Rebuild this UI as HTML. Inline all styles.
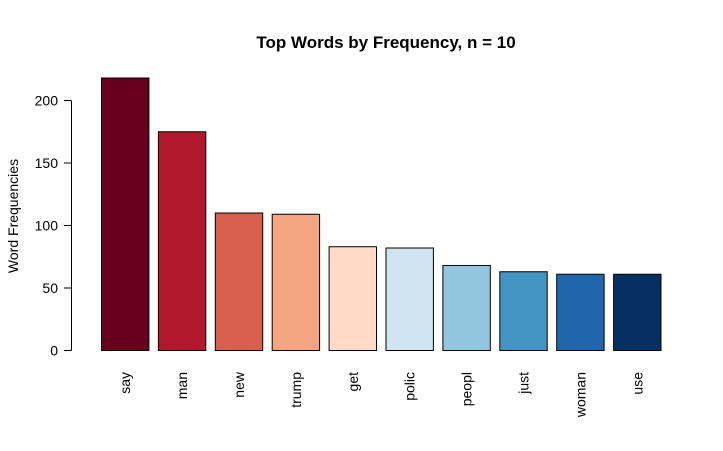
<!DOCTYPE html>
<html><head><meta charset="utf-8"><style>
body{margin:0;background:#fff}
svg{display:block;font-family:"Liberation Sans",Arial,sans-serif}
</style></head><body>
<svg id="chart" width="723" height="451">
<text x="386" y="48" text-anchor="middle" font-weight="bold" font-size="17">Top Words by Frequency, n = 10</text>
<text transform="translate(18,216) rotate(-90)" text-anchor="middle" font-size="14">Word Frequencies</text>
<g id="yaxis"></g>
<g id="bars"></g>
<g id="xlabels"></g>
</svg>
<script>
const categories=["say","man","new","trump","get","polic","peopl","just","woman","use"];
const values=[218,175,110,109,83,82,68,63,61,61];
const colors=["#67001F","#B2182B","#D6604D","#F4A582","#FDDBC7","#D1E5F0","#92C5DE","#4393C3","#2166AC","#053061"];
const yTicks=[0,50,100,150,200];
const NS="http://www.w3.org/2000/svg";
const y0=350.5,pxPer=1.25;
function y(v){return y0-v*pxPer;}
const bw=47.4,pitch=56.9,x0=101;
function x(i){return x0+i*pitch;}
function mk(t,a,p){const e=document.createElementNS(NS,t);for(const k in a)e.setAttribute(k,a[k]);p.appendChild(e);return e;}
const ya=document.getElementById('yaxis');
const axl=mk('line',{x1:71.5,x2:71.5,y1:y(0),y2:y(200),stroke:'#000'},ya);


yTicks.forEach(t=>{
 const l=mk('line',{x1:64,x2:71.5,y1:y(t),y2:y(t),stroke:'#000'},ya);
 
 
 const tx=mk('text',{x:58,y:y(t)+5,'text-anchor':'end','font-size':14},ya);
 tx.textContent=t;
 
 
});
const bg=document.getElementById('bars'),xl=document.getElementById('xlabels');
values.forEach((v,i)=>{
 const r=mk('rect',{x:x(i)+0.5,y:y(v),width:bw,height:y0-y(v),fill:colors[i],stroke:'#000','stroke-width':1},bg);
 
 
 const cx=x(i)+bw/2+0.5;
 const t=mk('text',{transform:`translate(${cx+5},372) rotate(-90)`,'text-anchor':'end','font-size':14},xl);
 t.textContent=categories[i];
 
 
});
</script>
</body></html>
